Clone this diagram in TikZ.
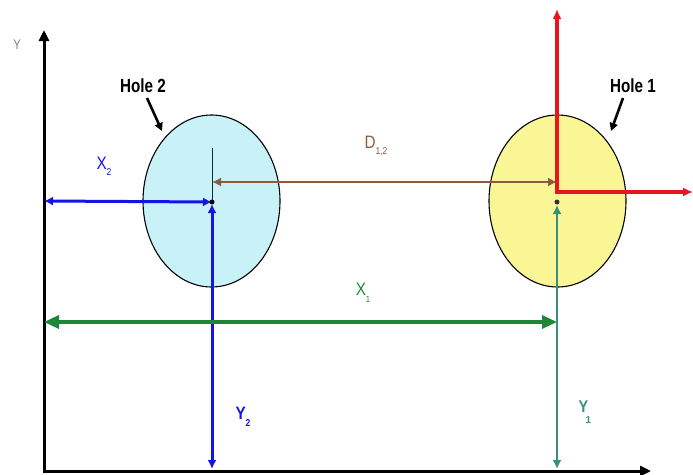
\documentclass[tikz,border=0pt]{standalone}
\usepackage{fontspec}
\setmainfont{Liberation Sans}
\usetikzlibrary{arrows.meta}
\definecolor{holeblue}{RGB}{200,242,248}
\definecolor{holeyellow}{RGB}{250,246,150}
\definecolor{dimblue}{RGB}{20,20,230}
\definecolor{dimgreen}{RGB}{30,135,55}
\definecolor{dimteal}{RGB}{55,145,120}
\definecolor{dimred}{RGB}{232,20,30}
\definecolor{dimbrown}{RGB}{140,90,60}
\tikzset{
  hole/.style={draw=black, line width=1.1pt},
  axisline/.style={draw=black, line width=3pt, -{Triangle[length=11pt,width=10pt]}},
  dimline/.style={line width=3pt, {Latex[length=9pt,width=9pt]}-{Latex[length=9pt,width=9pt]}},
  lbl/.style={inner sep=0pt, font=\fontsize{18}{18}\selectfont},
  holelbl/.style={inner sep=0pt, font=\fontsize{19}{19}\selectfont\bfseries},
  pointer/.style={draw=black, line width=2.6pt, -{Triangle[length=8pt,width=8pt]}},
}
\begin{document}
\begin{tikzpicture}[x=1pt,y=-1pt]
\useasboundingbox (0,0) rectangle (693,474);
% coordinates
\coordinate (O) at (44,471);
\coordinate (Ytop) at (44,30);
\coordinate (Xend) at (651,471);
\coordinate (c1) at (557,202);
\coordinate (c2) at (212,202);
% holes
\draw[hole, fill=holeblue] (211.5,201) ellipse [x radius=68.5, y radius=86];
\draw[hole, fill=holeyellow] (557.5,201) ellipse [x radius=68.5, y radius=86];
% axes
\draw[axisline] (O) -- (Ytop);
\draw[axisline] ([xshift=-1.5pt]O) -- (Xend);
\node[inner sep=0pt, text=gray, font=\fontsize{14}{14}\selectfont] (ylbl) at (17,45) {\scalebox{0.8}[1]{Y}};
% thin center line in hole 2
\coordinate (t2) at (212,148);
\draw[color=black!60!teal, line width=1pt] (t2) -- (c2);
% D12
\coordinate (d2) at (212,182);
\coordinate (d1) at (557,182);
\draw[dimline, draw=dimbrown, line width=2.6pt] (d2) -- (d1);
\node[lbl, text=dimbrown] (dlbl) at (376,146) {\scalebox{0.85}[1]{D\raisebox{-0.7ex}{\fontsize{10}{10}\selectfont 1,2}}};
% red local axes
\coordinate (r0) at (557,192);
\coordinate (rtop) at (557,9);
\coordinate (rright) at (693,192);
\draw[draw=dimred, line width=3.4pt, -{Latex[length=10pt,width=9pt]}] ([yshift=1.7pt]r0) -- (rtop);
\draw[draw=dimred, line width=3.4pt, -{Latex[length=10pt,width=9pt]}] ([xshift=-1.7pt]r0) -- (rright);
% X2
\coordinate (x2a) at (44,201);
\draw[dimline, draw=dimblue] (x2a) -- (c2);
\node[lbl, text=dimblue] (x2lbl) at (104,166) {\scalebox{0.85}[1]{X\raisebox{-0.6ex}{\fontsize{10}{10}\selectfont 2}}};
% Y2
\coordinate (y2a) at (212,204);
\coordinate (y2b) at (212,469);
\draw[dimline, draw=dimblue] (y2a) -- (y2b);
\node[lbl, text=dimblue, font=\fontsize{18}{18}\selectfont\bfseries] (y2lbl) at (243,417) {\scalebox{0.85}[1]{Y\raisebox{-0.7ex}{\fontsize{10}{10}\selectfont 2}}};
% X1
\coordinate (x1a) at (44,322);
\coordinate (x1b) at (557,322);
\draw[line width=3.2pt, draw=dimgreen, {Triangle[length=15pt,width=13pt]}-{Triangle[length=15pt,width=13pt]}] (x1a) -- (x1b);
\node[lbl, text=dimgreen] (x1lbl) at (363,293) {\scalebox{0.85}[1]{X\raisebox{-0.7ex}{\fontsize{9}{9}\selectfont 1}}};
% Y1
\coordinate (y1a) at (557,205);
\coordinate (y1b) at (557,469);
\draw[dimline, draw=dimteal, line width=2.4pt] (y1a) -- (y1b);
\node[lbl, text=dimteal, align=left, font=\fontsize{17}{17}\selectfont\bfseries] (y1lbl) at (585,412) {\scalebox{0.85}[1]{Y}\\[-6pt]\hspace*{7pt}{\fontsize{10}{10}\selectfont 1}};
% center dots
\fill[black] (c2) circle (2.5);
\fill[black!80] (c1) circle (2.5);
% hole labels
\node[holelbl] (h2) at (143,86) {\scalebox{0.8}[1]{Hole 2}};
\node[holelbl] (h1) at (633,86) {\scalebox{0.8}[1]{Hole 1}};
\coordinate (h2s) at (147,98);
\coordinate (h2e) at (162,131);
\coordinate (h1s) at (623,98);
\coordinate (h1e) at (611,131);
\draw[pointer] (h2s) -- (h2e);
\draw[pointer] (h1s) -- (h1e);
\end{tikzpicture}
\end{document}
